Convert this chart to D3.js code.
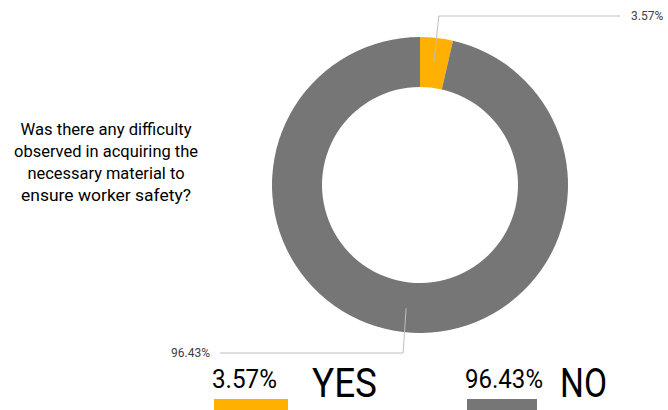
<!DOCTYPE html>
<meta charset="utf-8">
<style>
body { margin: 0; background: #fff; }
.title text { font: 17px "Roboto", sans-serif; fill: #000; }
.lbl { font: 12px "Roboto", sans-serif; fill: #404040; }
.leader { fill: none; stroke: #bfbfbf; stroke-width: 1; }
.legend text { font-family: "Roboto", sans-serif; fill: #000; }
</style>
<body>
<script src="https://cdn.jsdelivr.net/npm/d3@7"></script>
<script>
// chart data
var categories = ["YES", "NO"];
var values = [3.57, 96.43];
var valueLabels = ["3.57%", "96.43%"];
var titleLines = ["Was there any difficulty", "observed in acquiring the", "necessary material to", "ensure worker safety?"];

var width = 668, height = 410;
var cx = 420, cy = 185, outerR = 148, innerR = 98;

var color = d3.scaleOrdinal()
    .domain(categories)
    .range(["#ffb000", "#767676"]);

var svg = d3.select("body").append("svg")
    .attr("width", width)
    .attr("height", height);

var pie = d3.pie().sort(null).value(function(d) { return d.value; });
var arc = d3.arc().innerRadius(innerR).outerRadius(outerR);

var data = categories.map(function(c, i) { return {cat: c, value: values[i], label: valueLabels[i]}; });
var arcs = pie(data);

var g = svg.append("g").attr("transform", "translate(" + cx + "," + cy + ")");

g.selectAll("path.slice")
  .data(arcs)
  .enter().append("path")
    .attr("class", "slice")
    .attr("d", arc)
    .attr("fill", function(d) { return color(d.data.cat); });

// leader lines + data labels
var midR = outerR - 24;
function mid(d) { return (d.startAngle + d.endAngle) / 2; }

// YES label goes up and right, NO goes down and left
var labelSpec = [
  {ey: -169, ex: 200, tx: 211, anchor: "start", kdx: 5},
  {ey: 168, ex: -200, tx: -210, anchor: "end", kdx: -3}
];

arcs.forEach(function(d, i) {
  var a = mid(d);
  var px = Math.sin(a) * midR, py = -Math.cos(a) * midR;
  var s = labelSpec[i];
  var kx = px + s.kdx;
  g.append("path")
    .attr("class", "leader")
    .attr("d", "M" + px + "," + py + "L" + kx + "," + s.ey + "L" + s.ex + "," + s.ey);
  g.append("text")
    .attr("class", "lbl")
    .attr("x", s.tx)
    .attr("y", s.ey)
    .attr("dy", "0.35em")
    .attr("text-anchor", s.anchor)
    .text(d.data.label);
});

// question text
var title = svg.append("g").attr("class", "title");
title.selectAll("text")
  .data(titleLines)
  .enter().append("text")
    .attr("x", 106)
    .attr("y", function(d, i) { return 129 + i * 22; })
    .attr("dy", "0.35em")
    .attr("text-anchor", "middle")
    .attr("textLength", function(d, i) { return [171, 184, 157, 170][i]; })
    .attr("lengthAdjust", "spacingAndGlyphs")
    .text(function(d) { return d; });

// legend
var legendX = [212, 465];
var legend = svg.append("g").attr("class", "legend");
var items = legend.selectAll("g")
  .data(data)
  .enter().append("g")
    .attr("transform", function(d, i) { return "translate(" + legendX[i] + ",0)"; });

items.append("text")
    .attr("x", 0)
    .attr("y", 388)
    .attr("font-size", 26)
    .attr("textLength", function(d, i) { return i === 0 ? 65 : 78; })
    .attr("lengthAdjust", "spacingAndGlyphs")
    .text(function(d) { return d.label; });

items.append("text")
    .attr("x", function(d, i) { return i === 0 ? 100 : 95; })
    .attr("y", 397)
    .attr("font-size", 40)
    .attr("textLength", function(d, i) { return i === 0 ? 65 : 47; })
    .attr("lengthAdjust", "spacingAndGlyphs")
    .text(function(d) { return d.cat; });

items.append("rect")
    .attr("x", 2)
    .attr("y", 399)
    .attr("width", function(d, i) { return i === 0 ? 74 : 70; })
    .attr("height", 11)
    .attr("fill", function(d) { return color(d.cat); });
</script>
</body>
